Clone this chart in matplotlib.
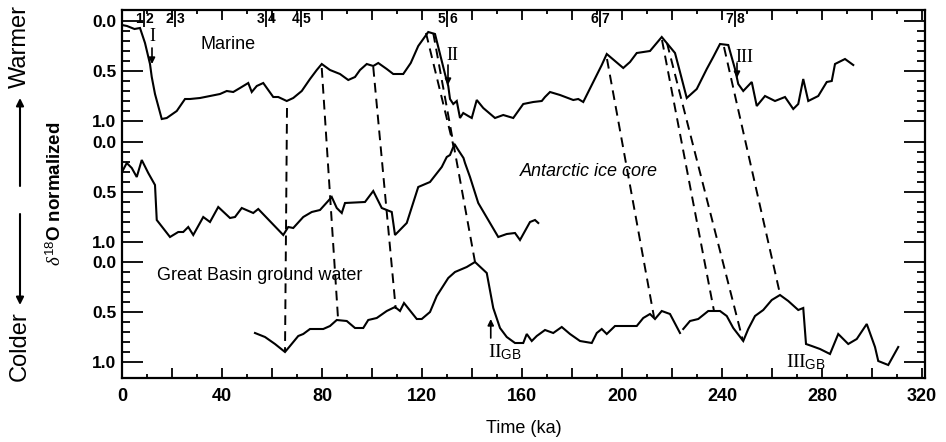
import numpy as np
import matplotlib
matplotlib.use('Agg')
import matplotlib.pyplot as plt
from matplotlib.ticker import MultipleLocator, FixedLocator, FuncFormatter

plt.rcParams['font.family'] = ['Liberation Sans', 'DejaVu Sans']
plt.rcParams['mathtext.fontset'] = 'custom'
plt.rcParams['mathtext.rm'] = 'Liberation Serif'
plt.rcParams['mathtext.sf'] = 'Liberation Sans'
plt.rcParams['mathtext.it'] = 'Liberation Serif:italic'

# --- data, ages in ka, d18O normalized 0..1 ---
marine_age = [0, 2, 5, 7.2, 9.2, 11.2, 11.9, 13.2, 15.9, 17.9, 21.9, 25.2, 27.2,
              31.2, 35.2, 39.2, 41.9, 44.5, 47.2, 50.5, 51.9, 53.9, 56.5, 60.5,
              62.5, 65.9, 68.5, 71.9, 75.2, 77.9, 79.9, 83.2, 87.2, 90.5, 93.2,
              95.2, 97.9, 100.5, 102.5, 105.9, 108.5, 112.5, 115.5, 118.5, 122.5,
              125.2, 127.2, 129.2, 130.5, 131.2, 132.5, 133.9, 135.2, 136.5,
              138.5, 139.9, 141.9, 144.5, 149.2, 152.5, 156.5, 160.5, 164.5,
              167.9, 169.2, 171.2, 175.2, 180.5, 182.5, 184.5, 188.5, 191.9,
              193.9, 197.2, 200.5, 203.2, 205.9, 211.2, 215.9, 221.2, 223.2,
              225.9, 229.9, 233.9, 236.5, 239.2, 242.5, 245.2, 246.5, 248.5,
              251.9, 253.9, 257.2, 261.2, 265.2, 268.5, 270.5, 272.5, 274.5,
              278.5, 281.9, 283.9, 285.2, 289.2, 292.5]
marine_d18o = [0.04, 0.05, 0.08, 0.07, 0.22, 0.43, 0.56, 0.73, 0.98, 0.97, 0.90,
               0.78, 0.78, 0.77, 0.75, 0.73, 0.70, 0.71, 0.67, 0.62, 0.71, 0.65,
               0.62, 0.76, 0.76, 0.80, 0.77, 0.70, 0.58, 0.49, 0.43, 0.49, 0.53,
               0.59, 0.56, 0.49, 0.43, 0.45, 0.42, 0.48, 0.53, 0.53, 0.42, 0.25,
               0.11, 0.13, 0.33, 0.53, 0.65, 0.78, 0.83, 0.80, 0.97, 0.92, 0.95,
               0.97, 0.79, 0.87, 0.97, 0.94, 0.97, 0.83, 0.81, 0.80, 0.76, 0.71,
               0.74, 0.79, 0.78, 0.81, 0.61, 0.44, 0.33, 0.40, 0.47, 0.41, 0.32,
               0.30, 0.16, 0.32, 0.51, 0.77, 0.68, 0.48, 0.36, 0.23, 0.24, 0.48,
               0.63, 0.70, 0.61, 0.85, 0.75, 0.80, 0.76, 0.88, 0.83, 0.58, 0.80,
               0.75, 0.61, 0.60, 0.43, 0.38, 0.44]

antarctic_age = [0, 1.9, 3.9, 5.9, 7.9, 10.5, 13.2, 13.9, 19.2, 22.5, 24.5, 26.5,
                 28.5, 32.5, 35.2, 38.5, 43.2, 45.2, 47.9, 52.5, 54.5, 64.5, 66.5,
                 68.5, 72.5, 75.9, 79.2, 83.9, 85.9, 87.9, 89.2, 97.2, 100.5,
                 103.9, 105.9, 107.9, 109.2, 113.9, 118.5, 123.2, 127.9, 129.9,
                 131.2, 133.0, 134.5, 136.6, 137.2, 139.2, 142.5, 150.5, 153.9,
                 157.2, 159.2, 163.2, 165.2, 166.5]
antarctic_d18o = [0.30, 0.21, 0.26, 0.35, 0.18, 0.31, 0.43, 0.78, 0.95, 0.90,
                  0.90, 0.85, 0.93, 0.75, 0.80, 0.65, 0.76, 0.75, 0.66, 0.71,
                  0.67, 0.93, 0.85, 0.86, 0.75, 0.70, 0.68, 0.55, 0.66, 0.71,
                  0.61, 0.60, 0.49, 0.66, 0.68, 0.70, 0.93, 0.81, 0.45, 0.40,
                  0.25, 0.15, 0.13, 0.02, 0.08, 0.16, 0.21, 0.35, 0.61, 0.95,
                  0.92, 0.91, 0.98, 0.80, 0.78, 0.81]

gb_age = [53.2, 57.2, 61.2, 65.2, 67.2, 70.5, 72.5, 75.2, 80.5, 83.2, 85.9, 89.9,
          93.2, 96.5, 98.5, 101.9, 105.9, 109.2, 111.2, 112.8, 117.9, 119.9,
          123.2, 125.9, 130.5, 133.2, 137.9, 141.2, 145.9, 148.5, 151.2, 153.9,
          157.2, 160.5, 161.9, 163.9, 165.9, 169.2, 172.5, 175.9, 179.2, 183.2,
          187.9, 189.9, 191.9, 193.9, 197.2, 205.9, 208.5, 211.2, 213.2, 215.9,
          219.2, 223.2, 223.9, 224.5, 227.2, 230.5, 234.5, 239.2, 241.9, 244.5,
          248.5, 250.5, 253.2, 256.5, 259.9, 263.2, 266.5, 270.5, 272.5, 273.6,
          275.9, 279.2, 283.2, 286.5, 290.5, 293.9, 297.9, 301.2, 302.5, 306.5,
          310.5]
gb_d18o = [0.71, 0.75, 0.82, 0.90, 0.84, 0.74, 0.72, 0.67, 0.67, 0.64, 0.58, 0.59,
           0.66, 0.66, 0.58, 0.56, 0.49, 0.45, 0.49, 0.41, 0.57, 0.57, 0.50, 0.34,
           0.16, 0.10, 0.05, 0.00, 0.11, 0.46, 0.66, 0.75, 0.81, 0.81, 0.72, 0.79,
           0.74, 0.68, 0.71, 0.65, 0.72, 0.79, 0.81, 0.71, 0.67, 0.72, 0.64, 0.64,
           0.56, 0.52, 0.57, 0.49, 0.52, 0.71, np.nan, 0.67, 0.59, 0.57, 0.49,
           0.49, 0.54, 0.66, 0.79, 0.67, 0.54, 0.48, 0.38, 0.33, 0.39, 0.48, 0.46,
           0.82, 0.84, 0.87, 0.92, 0.72, 0.82, 0.77, 0.62, 0.85, 0.99, 1.03, 0.85]

# marine isotope stage boundaries (top axis)
stage_bounds = [8.8, 21.0, 57.6, 71.6, 130.0, 191.0, 245.0]
stage_left = ['1', '2', '3', '4', '5', '6', '7']
stage_right = ['2', '3', '4', '5', '6', '7', '8']

# correlation (tie) lines: marine point -> target record point
tie_marine_age = [66.0, 79.9, 100.5, 121.6, 124.5, 194.0, 216.0, 218.0, 240.8]
tie_marine_val = [0.87, 0.47, 0.46, 0.12, 0.12, 0.38, 0.19, 0.22, 0.26]
tie_target = ['gb', 'gb', 'gb', 'antarctic', 'gb', 'gb', 'gb', 'gb', 'gb']
tie_target_age = [65.2, 86.4, 109.5, 132.6, 141.2, 212.8, 236.8, 248.4, 263.2]
tie_target_val = [0.90, 0.56, 0.47, 0.04, 0.0, 0.55, 0.49, 0.79, 0.32]

# vertical offset of each record on the shared axis
OFFSET = {'marine': 0.0, 'antarctic': 1.21, 'gb': 2.41}

fig = plt.figure(figsize=(9.46, 4.42), dpi=100)
ax = fig.add_axes([122 / 946, 1 - 378 / 442, 803 / 946, 368 / 442])

for age, val, key in [(marine_age, marine_d18o, 'marine'),
                      (antarctic_age, antarctic_d18o, 'antarctic'),
                      (gb_age, gb_d18o, 'gb')]:
    ax.plot(age, np.array(val) + OFFSET[key], color='k', lw=1.5,
            solid_joinstyle='miter')

for a0, v0, tgt, a1, v1 in zip(tie_marine_age, tie_marine_val, tie_target,
                               tie_target_age, tie_target_val):
    ax.plot([a0, a1], [v0 + OFFSET['marine'], v1 + OFFSET[tgt]],
            color='k', lw=1.4, dashes=(5, 3.2))

ax.set_xlim(0, 321.2)
ax.set_ylim(3.57, -0.11)

# stage boundary marks along the top
ax.vlines(stage_bounds, -0.11, 0.06, color='k', lw=1.3)
for b, l, r in zip(stage_bounds, stage_left, stage_right):
    ax.text(b - 0.6, -0.015, l, ha='right', va='center', fontsize=10,
            fontweight='bold')
    ax.text(b + 0.8, -0.015, r, ha='left', va='center', fontsize=10,
            fontweight='bold')

# terminations
arr = dict(arrowstyle='-|>', color='k', lw=1.2, mutation_scale=9,
           shrinkA=0, shrinkB=0)
serif = ['Liberation Serif', 'DejaVu Serif']
ax.text(12.0, 0.16, 'I', ha='center', va='center', fontsize=13, family=serif)
ax.annotate('', xy=(12.0, 0.43), xytext=(12.0, 0.27), arrowprops=arr)
ax.text(132.0, 0.35, 'II', ha='center', va='center', fontsize=13, family=serif)
ax.annotate('', xy=(130.4, 0.64), xytext=(130.4, 0.44), arrowprops=arr)
ax.text(249.0, 0.37, 'III', ha='center', va='center', fontsize=13, family=serif)
ax.annotate('', xy=(246.0, 0.57), xytext=(246.0, 0.42), arrowprops=arr)
ax.annotate('', xy=(147.5, 0.57 + OFFSET['gb']), xytext=(147.5, 0.76 + OFFSET['gb']),
            arrowprops=arr)
ax.text(146.5, 0.90 + OFFSET['gb'], r'$\mathrm{II}_{\mathsf{GB}}$',
        ha='left', va='center', fontsize=14)
ax.text(265.5, 1.0 + OFFSET['gb'], r'$\mathrm{III}_{\mathsf{GB}}$',
        ha='left', va='center', fontsize=14)

# record names
ax.text(31.5, 0.24, 'Marine', ha='left', va='center', fontsize=13)
ax.text(159.0, 0.30 + OFFSET['antarctic'], 'Antarctic ice core', ha='left',
        va='center', fontsize=13, style='italic')
ax.text(14.0, 0.13 + OFFSET['gb'], 'Great Basin ground water', ha='left',
        va='center', fontsize=13)

# axes ticks
ax.xaxis.set_major_locator(MultipleLocator(20))
ax.xaxis.set_minor_locator(MultipleLocator(10))
ax.xaxis.set_major_formatter(FuncFormatter(
    lambda v, p: f'{v:.0f}' if abs(v % 40) < 1e-6 else ''))
ax.tick_params(axis='x', which='both', direction='in', top=True, bottom=True,
               width=1.3, labelsize=13, pad=7)
ax.tick_params(axis='x', which='major', length=7)
ax.tick_params(axis='x', which='minor', length=3)

yt, yl, ym = [], [], []
for key in ['marine', 'antarctic', 'gb']:
    o = OFFSET[key]
    yt += [o, o + 0.5, o + 1.0]
    yl += ['0.0', '0.5', '1.0']
    ym += [o + f for f in (0.1, 0.2, 0.3, 0.4, 0.6, 0.7, 0.8, 0.9)]
ax.yaxis.set_major_locator(FixedLocator(yt))
ax.set_yticklabels(yl)
ax.yaxis.set_minor_locator(FixedLocator(ym))
ax.tick_params(axis='y', which='both', direction='in', left=True, right=True,
               width=1.3, labelsize=12.5, pad=4)
ax.tick_params(axis='y', which='major', length=15)
ax.tick_params(axis='y', which='minor', length=6)
for lab in ax.get_xticklabels() + ax.get_yticklabels():
    lab.set_fontweight('bold')
for s in ax.spines.values():
    s.set_linewidth(1.6)

ax.set_xlabel('Time (ka)', fontsize=13, labelpad=11)

fig.text(55 / 946, 1 - 194 / 442, r'$\delta^{\mathsf{18}}$O normalized',
         rotation=90, ha='center', va='center', fontsize=13.5, fontweight='bold')
fig.text(20 / 946, 1 - 46 / 442, 'Warmer', rotation=90, ha='center',
         va='center', fontsize=17)
fig.text(20 / 946, 1 - 346 / 442, 'Colder', rotation=90, ha='center',
         va='center', fontsize=17)
ax.annotate('', xy=(20 / 946, 1 - 98 / 442), xytext=(20 / 946, 1 - 186 / 442),
            xycoords='figure fraction', textcoords='figure fraction',
            arrowprops=dict(arrowstyle='-|>', color='k', lw=1.5,
                            mutation_scale=11, shrinkA=0, shrinkB=0))
ax.annotate('', xy=(20 / 946, 1 - 305 / 442), xytext=(20 / 946, 1 - 214 / 442),
            xycoords='figure fraction', textcoords='figure fraction',
            arrowprops=dict(arrowstyle='-|>', color='k', lw=1.5,
                            mutation_scale=11, shrinkA=0, shrinkB=0))

fig.savefig('out.png', dpi=100, facecolor='white')
